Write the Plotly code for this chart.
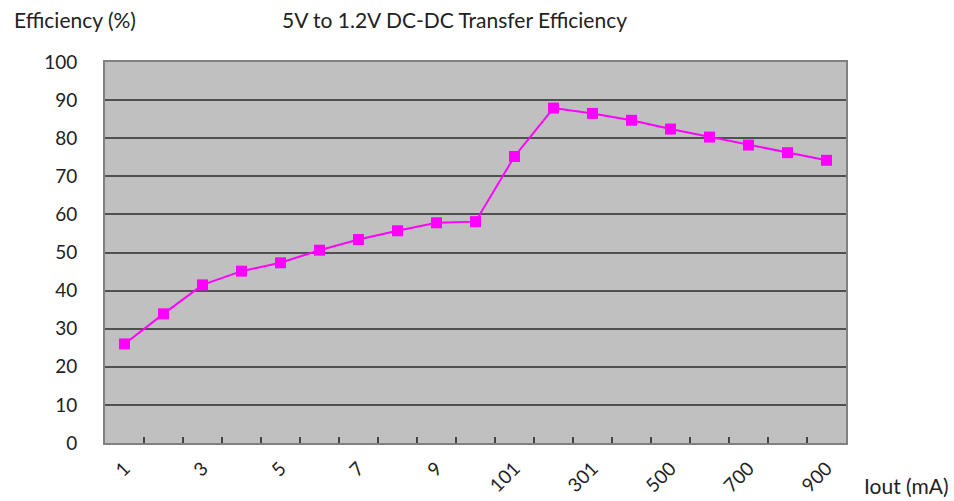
import plotly.graph_objects as go

categories = ["1", "2", "3", "4", "5", "6", "7", "8", "9", "10",
              "101", "201", "301", "400", "500", "600", "700", "800", "900"]
efficiency = [26.0, 33.9, 41.5, 45.1, 47.3, 50.6, 53.4, 55.7, 57.8, 58.1,
              75.2, 87.9, 86.5, 84.7, 82.4, 80.3, 78.2, 76.2, 74.2]
shown_labels = [c if i % 2 == 0 else "" for i, c in enumerate(categories)]
y_ticks = list(range(0, 101, 10))

FONT = "Lato, Open Sans, sans-serif"
L, R, T, B = 105, 108, 62, 58
W, H = 954, 501

fig = go.Figure()
fig.add_trace(go.Scatter(
    x=categories, y=efficiency, mode="lines+markers",
    line=dict(color="#FF00FF", width=2),
    marker=dict(symbol="square", size=11, color="#FF00FF"),
    showlegend=False,
))

fig.update_layout(
    width=W, height=H,
    margin=dict(l=L, r=R, t=T, b=B, autoexpand=False),
    paper_bgcolor="white",
    plot_bgcolor="#C0C0C0",
    font=dict(family=FONT, color="#222", size=19),
    xaxis=dict(
        type="category", automargin=False,
        tickmode="array", tickvals=categories, ticktext=shown_labels,
        tickson="boundaries", ticks="inside", ticklen=6, tickcolor="#444",
        tickwidth=1.5,
        tickangle=-45, ticklabelstandoff=5,
        tickfont=dict(size=19, family=FONT),
        showgrid=False, showline=True, linecolor="#808080", linewidth=2,
        mirror=True, range=[-0.5, 18.5], zeroline=False,
    ),
    yaxis=dict(
        automargin=False,
        range=[0, 100], tickvals=y_ticks, ticks="", ticklabelstandoff=22,
        showgrid=True, gridcolor="#505050", gridwidth=1.5,
        showline=True, linecolor="#808080", linewidth=2, mirror=True,
        zeroline=False, tickfont=dict(size=19, family=FONT),
    ),
)

notes = [
    ("Efficiency (%)", 12, 20),
    ("5V to 1.2V DC-DC Transfer Efficiency", 280, 20),
    ("Iout (mA)", 862, 485),
]
pw = W - L - R
ph = H - T - B
for text, px, py in notes:
    fig.add_annotation(
        text=text, x=(px - L) / pw, y=(H - B - py) / ph,
        xref="paper", yref="paper", showarrow=False,
        xanchor="left", yanchor="middle",
        font=dict(size=21, family=FONT, color="#222"),
    )

fig.write_html(
    "out.html",
    config={"displayModeBar": False},
    post_script="document.body.style.margin='0';document.body.style.padding='0';",
)
